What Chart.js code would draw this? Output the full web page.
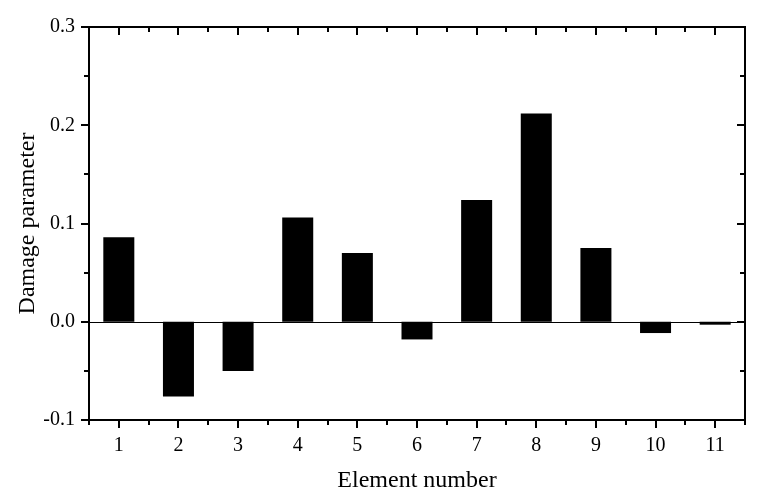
<!DOCTYPE html>
<html>
<head>
<meta charset="utf-8">
<script src="https://cdn.jsdelivr.net/npm/chart.js@4.4.1/dist/chart.umd.min.js"></script>
<style>
html,body{margin:0;padding:0;background:#fff;}
#wrap{width:767px;height:503px;}
</style>
</head>
<body>
<div id="wrap"><canvas id="c" width="767" height="503"></canvas></div>
<script>
const categories = ['1','2','3','4','5','6','7','8','9','10','11'];
const damage = [0.086, -0.076, -0.050, 0.106, 0.070, -0.018, 0.124, 0.212, 0.075, -0.0115, -0.003];
const yTicks = [-0.1, 0.0, 0.1, 0.2, 0.3];

const FONT = '"Liberation Serif", "Times New Roman", serif';

const framePlugin = {
  id: 'frame',
  afterDatasetsDraw(chart) {
    const ctx = chart.ctx;
    const a = chart.chartArea;
    const xs = chart.scales.x, ys = chart.scales.y;
    ctx.save();
    ctx.strokeStyle = '#000';
    ctx.lineWidth = 1;
    const y0 = Math.round(ys.getPixelForValue(0)) + 0.5;
    ctx.beginPath(); ctx.moveTo(a.left, y0); ctx.lineTo(a.right, y0); ctx.stroke();
    ctx.lineWidth = 2;
    ctx.strokeRect(a.left, a.top, a.right - a.left, a.bottom - a.top);
    const yMin = ys.min;
    for (let i = 0; i <= 8; i++) {
      const v = yMin + i * 0.05;
      const p = Math.round(ys.getPixelForValue(v));
      const major = i % 2 === 0;
      const L = major ? 8 : 5;
      ctx.beginPath();
      ctx.moveTo(a.left - L, p); ctx.lineTo(a.left, p);
      ctx.moveTo(a.right, p); ctx.lineTo(a.right - L, p);
      ctx.stroke();
    }
    const n = categories.length;
    for (let i = 0; i < n; i++) {
      const p = Math.round(xs.getPixelForValue(i));
      ctx.beginPath();
      ctx.moveTo(p, a.bottom); ctx.lineTo(p, a.bottom + 8);
      ctx.moveTo(p, a.top); ctx.lineTo(p, a.top + 8);
      ctx.stroke();
    }
    for (let i = 0; i <= n; i++) {
      const p = Math.round(xs.getPixelForValue(i - 0.5));
      ctx.beginPath();
      ctx.moveTo(p, a.bottom); ctx.lineTo(p, a.bottom + 5);
      ctx.moveTo(p, a.top); ctx.lineTo(p, a.top + 5);
      ctx.stroke();
    }
    ctx.restore();
  }
};

new Chart(document.getElementById('c'), {
  type: 'bar',
  data: {
    labels: categories,
    datasets: [{
      data: damage,
      backgroundColor: '#000',
      borderWidth: 0,
      barPercentage: 0.52,
      categoryPercentage: 1.0
    }]
  },
  options: {
    responsive: false,
    animation: false,
    devicePixelRatio: 1,
    layout: { padding: { left: 0, top: 27, right: 22, bottom: 0 } },
    plugins: { legend: { display: false }, tooltip: { enabled: false } },
    scales: {
      x: {
        type: 'category',
        offset: true,
        grid: { display: false, drawTicks: false },
        border: { display: false },
        ticks: { color: '#000', font: { family: FONT, size: 20 }, padding: 14, maxRotation: 0 },
        title: { display: true, text: 'Element number', color: '#000', font: { family: FONT, size: 24 }, padding: { top: 10, bottom: 8 } },
        afterFit(s) { s.height = 83; }
      },
      y: {
        min: -0.1, max: 0.3,
        grid: { display: false, drawTicks: false },
        border: { display: false },
        afterBuildTicks(s) { s.ticks = yTicks.map(v => ({ value: v })); },
        ticks: {
          color: '#000', font: { family: FONT, size: 20 }, padding: 14,
          callback: (v) => v.toFixed(1)
        },
        title: { display: true, text: 'Damage parameter', color: '#000', font: { family: FONT, size: 24 }, padding: { top: 13, bottom: 8 } },
        afterFit(s) { s.width = 89; }
      }
    }
  },
  plugins: [framePlugin]
});
</script>
</body>
</html>
